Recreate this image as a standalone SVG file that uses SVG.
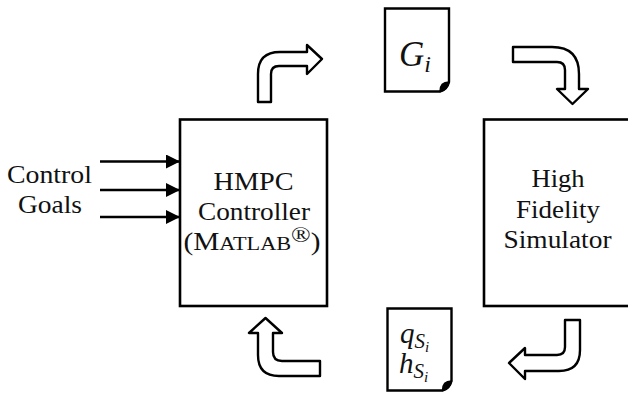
<svg xmlns="http://www.w3.org/2000/svg" width="628" height="397" viewBox="0 0 628 397">
<defs>
<style>
.box{fill:#fff;stroke:#000;stroke-width:2.6}
.bent{fill:#fff;stroke:#000;stroke-width:2.4;stroke-linejoin:round}
.doc{fill:#fff;stroke:#000;stroke-width:2.4;stroke-linejoin:miter}
.lbl{font-size:25px;fill:#111}
.math{font-style:italic;fill:#111}
.in{stroke:#000;stroke-width:2.6;fill:none}
</style>
<marker id="ah" markerUnits="userSpaceOnUse" markerWidth="14" markerHeight="14" viewBox="0 0 14 14" refX="14" refY="7" orient="auto">
<path d="M0,0 L14,7 L0,14 Z" fill="#000"/>
</marker>
</defs>
<rect width="628" height="397" fill="#fff"/>

<g font-family="Liberation Serif, Times New Roman, serif">
<g id="controlGoals">
<text class="lbl" x="49.5" y="183" text-anchor="middle" textLength="85" lengthAdjust="spacingAndGlyphs">Control</text>
<text class="lbl" x="50" y="213" text-anchor="middle" textLength="64" lengthAdjust="spacingAndGlyphs">Goals</text>
</g>

<g id="hmpc">
<rect class="box" x="180" y="119.5" width="147" height="186.5"/>
<text class="lbl" x="253.5" y="190" text-anchor="middle" textLength="80" lengthAdjust="spacingAndGlyphs">HMPC</text>
<text class="lbl" x="254" y="220" text-anchor="middle" textLength="112" lengthAdjust="spacingAndGlyphs">Controller</text>
<text class="lbl" x="252" y="250" text-anchor="middle" textLength="137" lengthAdjust="spacingAndGlyphs">(M<tspan font-size="19">ATLAB</tspan><tspan dy="-8" font-size="22">®</tspan><tspan dy="8">)</tspan></text>
</g>

<g id="simulator">
<rect class="box" x="484" y="119.5" width="160" height="186.5"/>
<text class="lbl" x="558" y="187" text-anchor="middle" textLength="53" lengthAdjust="spacingAndGlyphs">High</text>
<text class="lbl" x="558" y="218" text-anchor="middle" textLength="84" lengthAdjust="spacingAndGlyphs">Fidelity</text>
<text class="lbl" x="557.5" y="248" text-anchor="middle" textLength="108" lengthAdjust="spacingAndGlyphs">Simulator</text>
</g>

<g id="docG">
<path class="doc" d="M385,8.5 L449,8.5 L449,82 Q447,90 440,91.5 L385,91.5 Z"/>
<path d="M449,82 Q440,82 440,91.5 Q447,90 449,82 Z" fill="#000" stroke="#000" stroke-width="1.5" stroke-linejoin="round"/>
<text class="math" x="399" y="66" font-size="35">G<tspan font-size="24" dy="6">i</tspan></text>
</g>

<g id="docQH">
<path class="doc" d="M387.5,308.5 L451.5,308.5 L451.5,381 Q449.5,389 442.5,390.5 L387.5,390.5 Z"/>
<path d="M451.5,381 Q442.5,381 442.5,390.5 Q449.5,389 451.5,381 Z" fill="#000" stroke="#000" stroke-width="1.5" stroke-linejoin="round"/>
<text class="math" x="400" y="343" font-size="29">q<tspan font-size="21" dy="5">S</tspan><tspan font-size="15" dy="4">i</tspan></text>
<text class="math" x="399" y="373" font-size="29">h<tspan font-size="21" dy="5">S</tspan><tspan font-size="15" dy="4">i</tspan></text>
</g>
</g>

<g id="connectors">
<line class="in" x1="100" y1="161.5" x2="180" y2="161.5" marker-end="url(#ah)"/>
<line class="in" x1="100" y1="190" x2="180" y2="190" marker-end="url(#ah)"/>
<line class="in" x1="100" y1="217" x2="180" y2="217" marker-end="url(#ah)"/>
<path class="bent" d="M258,102 L258,74 Q258,52 280,52 L307,52 L307,45 L322,59 L307,74 L307,66 L279,66 Q271,66 271,74 L271,102 Z"/>
<path class="bent" d="M513,47 L552,47 Q579,47 579,74 L579,89 L588,89 L572.5,104 L557,89 L565,89 L565,70 Q565,62 557,62 L513,62 Z"/>
<path class="bent" d="M565,320 L580,320 L580,350 Q580,371 559,371 L525,371 L525,379 L509,363 L525,348 L525,355 L557,355 Q565,355 565,347 Z"/>
<path class="bent" d="M320,361 L282,361 Q273,361 273,352 L273,333 L282,333 L265.5,318 L249,333 L258,333 L258,355 Q258,376 279,376 L320,376 Z"/>
</g>
</svg>
